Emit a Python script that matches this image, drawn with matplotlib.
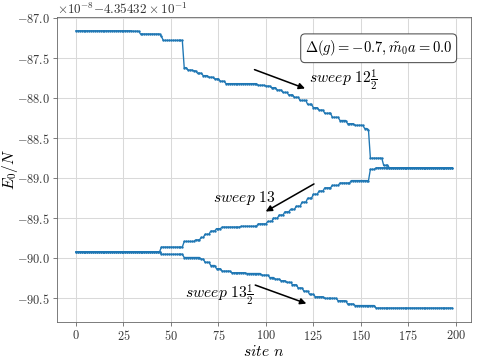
import numpy as np
import matplotlib
matplotlib.use('Agg')
import matplotlib.pyplot as plt
from matplotlib.ticker import ScalarFormatter

plt.rcParams['font.family'] = 'serif'
plt.rcParams['font.serif'] = ['cmr10', 'DejaVu Serif']
plt.rcParams['mathtext.fontset'] = 'cm'
plt.rcParams['axes.formatter.use_mathtext'] = True

# energy offset and scale of the y values (E0/N = offset + level*1e-8)
e_offset = -0.435432
e_scale = 1e-8

# site index of one sweep
sites = np.arange(199)

# sweep 12 1/2 (left -> right), run length encoded levels
sweep12h_levels = [-87.16, -87.165, -87.20, -87.23, -87.28, -87.62, -87.65, -87.66,
                   -87.69, -87.72, -87.74, -87.76, -87.79, -87.82, -87.84, -87.85,
                   -87.87, -87.90, -87.93, -87.96, -87.99, -88.03, -88.08, -88.12,
                   -88.15, -88.19, -88.24, -88.28, -88.32, -88.34, -88.38, -88.40,
                   -88.75, -88.84, -88.87]
sweep12h_runs = [30, 4, 11, 1, 11, 2, 3, 2,
                 3, 3, 3, 3, 3, 17, 4, 3,
                 3, 3, 3, 3, 3, 4, 3, 3,
                 3, 4, 4, 4, 4, 5, 2, 1,
                 7, 3, 34]

# sweep 13 (right -> left), stored in site order
sweep13_levels = [-89.92, -89.86, -89.79, -89.77, -89.74, -89.70, -89.66, -89.63,
                  -89.61, -89.60, -89.57, -89.54, -89.50, -89.46, -89.42, -89.39,
                  -89.35, -89.30, -89.25, -89.20, -89.16, -89.12, -89.09, -89.06,
                  -89.03, -88.89, -88.87]
sweep13_runs = [45, 12, 6, 3, 2, 3, 3, 3,
                10, 9, 5, 3, 3, 3, 3, 3,
                3, 3, 3, 3, 3, 4, 4, 6,
                10, 3, 41]

# sweep 13 1/2 (left -> right)
sweep13h_levels = [-89.92, -89.95, -89.99, -90.01, -90.05, -90.09, -90.13, -90.16,
                   -90.18, -90.19, -90.21, -90.24, -90.26, -90.28, -90.30, -90.33,
                   -90.37, -90.41, -90.45, -90.48, -90.50, -90.53, -90.57, -90.59,
                   -90.62]
sweep13h_runs = [45, 12, 9, 2, 3, 3, 3, 5,
                 8, 8, 4, 3, 3, 3, 3, 3,
                 3, 3, 3, 5, 7, 5, 4, 11,
                 41]

box_label = r'$\Delta(g)=-0.7, \tilde{m}_0a=0.0$'


def unroll(levels, runs):
    return np.repeat(np.array(levels), runs) * e_scale + e_offset


def main():
    y1 = unroll(sweep12h_levels, sweep12h_runs)
    y2 = unroll(sweep13_levels, sweep13_runs)
    y3 = unroll(sweep13h_levels, sweep13h_runs)
    x = np.concatenate([sites, sites[::-1], sites])
    y = np.concatenate([y1, y2[::-1], y3])

    fig = plt.figure(figsize=(6.4, 4.8), dpi=75)
    ax = fig.add_subplot(111)
    fig.subplots_adjust(left=0.119, right=0.981, top=0.953, bottom=0.106)
    ax.plot(x, y, color='C0', lw=1.3, marker='.', markersize=2.5)

    fmt = ScalarFormatter(useOffset=e_offset, useMathText=True)
    ax.yaxis.set_major_formatter(fmt)
    ax.set_xticks(np.arange(0, 201, 25))
    ax.tick_params(labelsize=11.8, color='0.4', labelcolor='0.2')
    ax.yaxis.get_offset_text().set_fontsize(12.5)
    ax.yaxis.get_offset_text().set_color('0.2')
    for sp in ax.spines.values():
        sp.set_color('0.4')
    ax.grid(True, color='0.85', lw=1)

    ax.set_xlabel(r'$site\ n$', fontsize=15, labelpad=1)
    ax.set_ylabel(r'$E_0/N$', fontsize=15)
    ax.yaxis.set_label_coords(-0.09, 0.5)

    def ey(v):
        return v * e_scale + e_offset

    arrow = dict(arrowstyle='-|>', color='k', lw=1.5, mutation_scale=12,
                 shrinkA=0, shrinkB=0)
    ax.annotate('', xy=(120.6, ey(-87.88)), xytext=(94.0, ey(-87.645)), arrowprops=arrow)
    ax.text(140.5, ey(-87.77), r'$sweep\ 12\frac{1}{2}$', fontsize=15,
            ha='center', va='center')
    ax.annotate('', xy=(99.9, ey(-89.416)), xytext=(125.3, ey(-89.072)), arrowprops=arrow)
    ax.text(88.8, ey(-89.245), r'$sweep\ 13$', fontsize=15, ha='center', va='center')
    ax.annotate('', xy=(121.3, ey(-90.565)), xytext=(94.4, ey(-90.334)), arrowprops=arrow)
    ax.text(75.2, ey(-90.45), r'$sweep\ 13\frac{1}{2}$', fontsize=15,
            ha='center', va='center')

    ax.text(0.955, 0.93, box_label, transform=ax.transAxes, fontsize=14,
            ha='right', va='top',
            bbox=dict(boxstyle='round,pad=0.3', fc='white', ec='0.3'))

    fig.savefig('out.png', dpi=75)


if __name__ == '__main__':
    main()
